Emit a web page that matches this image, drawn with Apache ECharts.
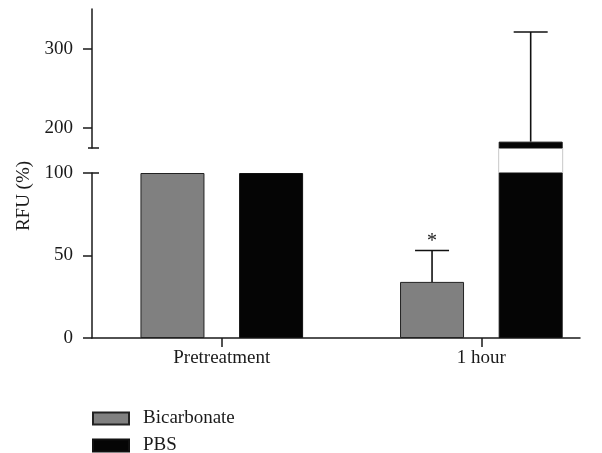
<!DOCTYPE html>
<html>
<head>
<meta charset="utf-8">
<script src="https://cdn.jsdelivr.net/npm/echarts@6/dist/echarts.min.js"></script>
<style>
  html, body { margin: 0; padding: 0; background: #fff; }
  #chart { width: 602px; height: 453px; }
</style>
</head>
<body>
<div id="chart"></div>
<script>
// data
const categories = ["Pretreatment", "1 hour"];
const bicarbonate = [100, 34];
const pbs = [100, 183];
const bicarbonateErrTop = [null, 53];
const pbsErrTop = [null, 321];
const bicarbonateMarks = ["", "*"];
const lowerTicks = [0, 50, 100];
const upperTicks = [200, 300];

// broken axis: lower part 0-100, upper part 175-350
const lowerMax = 100;
const upperMin = 175;
const upperMax = 350;

const font = "Liberation Serif";
const fontSize = 19;
const ink = "#1a1a1a";
const groupShift = [-0.19, 0.19]; // Bicarbonate left, PBS right of the category

const xPos = (i, g) => i + 1 + groupShift[g];

// which part of the axis a value belongs to
const lowerPoints = (vals, g) => vals.map((v, i) => [xPos(i, g), v]);
const upperPoints = (vals, g) =>
  vals.map((v, i) => [xPos(i, g), v > upperMin ? v : "-"]);

function errPoints(tops, vals, marks, g, upper) {
  const out = [];
  tops.forEach((t, i) => {
    if (t == null) return;
    if ((t > upperMin) === upper) {
      out.push([xPos(i, g), t, vals[i], marks ? marks[i] : ""]);
    }
  });
  return out;
}

function renderErr(params, api) {
  const x = api.value(0);
  const top = api.coord([x, api.value(1)]);
  const base = api.coord([x, api.value(2)]);
  const half = 17;
  const style = { stroke: "#111", lineWidth: 1.6 };
  const children = [
    { type: "line", shape: { x1: top[0], y1: top[1], x2: base[0], y2: base[1] }, style },
    { type: "line", shape: { x1: top[0] - half, y1: top[1], x2: top[0] + half, y2: top[1] }, style },
  ];
  const mark = api.value(3);
  if (mark) {
    children.push({
      type: "text",
      style: {
        text: mark, x: top[0], y: top[1] + 1,
        align: "center", verticalAlign: "bottom",
        font: "20px " + font, fill: ink,
      },
    });
  }
  return { type: "group", children };
}

// thin outline of the PBS bar across the axis break
function renderGap(params, api) {
  const x = api.value(0);
  const lo = api.coord([x, lowerMax]);
  const w = 64;
  return {
    type: "group",
    children: [
      { type: "line", shape: { x1: lo[0] - w / 2, y1: lo[1], x2: lo[0] - w / 2, y2: lo[1] - 25 }, style: { stroke: "#c8c8c8", lineWidth: 1 } },
      { type: "line", shape: { x1: lo[0] + w / 2, y1: lo[1], x2: lo[0] + w / 2, y2: lo[1] - 25 }, style: { stroke: "#c8c8c8", lineWidth: 1 } },
    ],
  };
}

const barBase = {
  type: "bar",
  barWidth: 64,
  barGap: "-100%",
  animation: false,
};
const grayStyle = { color: "#808080", borderColor: "#222", borderWidth: 1 };
const blackStyle = { color: "#050505", borderColor: "#111", borderWidth: 1 };

const xCommon = {
  type: "value",
  min: 0.5,
  max: 2.38,
  splitLine: { show: false },
};
const labelStyle = { color: ink, fontSize, fontFamily: font };

const chart = echarts.init(document.getElementById("chart"));
chart.setOption({
  animation: false,
  textStyle: { fontFamily: font },
  grid: [
    { left: 92, right: 22, top: 173, bottom: 115 },
    { left: 92, right: 22, top: 9, bottom: 305 },
  ],
  xAxis: [
    {
      ...xCommon,
      gridIndex: 0,
      axisLine: { lineStyle: { color: ink, width: 1.5 } },
      axisTick: { customValues: [1, 2], length: 9, lineStyle: { color: ink, width: 1.5 } },
      axisLabel: {
        ...labelStyle,
        customValues: [1, 2],
        formatter: (v) => categories[Math.round(v) - 1],
        margin: 11,
      },
    },
    { ...xCommon, gridIndex: 1, show: false },
  ],
  yAxis: [
    {
      gridIndex: 0, type: "value", min: 0, max: lowerMax,
      splitLine: { show: false },
      axisLine: { show: true, lineStyle: { color: ink, width: 1.5 } },
      axisTick: { customValues: lowerTicks, length: 9, lineStyle: { color: ink, width: 1.5 } },
      axisLabel: { ...labelStyle, customValues: lowerTicks, margin: 19 },
    },
    {
      // right half of the break cap at 100
      gridIndex: 0, type: "value", min: 0, max: lowerMax, position: "left",
      splitLine: { show: false },
      axisLine: { show: false },
      axisTick: { customValues: [lowerMax], inside: true, length: 7, lineStyle: { color: ink, width: 1.5 } },
      axisLabel: { show: false },
    },
    {
      gridIndex: 1, type: "value", min: upperMin, max: upperMax,
      splitLine: { show: false },
      axisLine: { show: true, lineStyle: { color: ink, width: 1.5 } },
      axisTick: { customValues: upperTicks, length: 9, lineStyle: { color: ink, width: 1.5 } },
      axisLabel: { ...labelStyle, customValues: upperTicks, margin: 19 },
    },
    {
      // break cap at the bottom of the upper part
      gridIndex: 1, type: "value", min: upperMin, max: upperMax, position: "left",
      splitLine: { show: false },
      axisLine: { show: false },
      axisTick: { customValues: [upperMin], inside: true, length: 7, lineStyle: { color: ink, width: 1.5 } },
      axisLabel: { show: false },
    },
    {
      gridIndex: 1, type: "value", min: upperMin, max: upperMax, position: "left",
      splitLine: { show: false },
      axisLine: { show: false },
      axisTick: { customValues: [upperMin], length: 4, lineStyle: { color: ink, width: 1.5 } },
      axisLabel: { show: false },
    },
  ],
  legend: {
    orient: "vertical",
    left: 92,
    top: 409,
    height: 60,
    padding: 0,
    itemWidth: 36,
    itemHeight: 12,
    itemGap: 8,
    icon: "rect",
    data: ["Bicarbonate", "PBS"],
    textStyle: { ...labelStyle, padding: [0, 0, 0, 9] },
  },
  graphic: [
    {
      type: "text",
      x: 24,
      y: 196,
      rotation: Math.PI / 2,
      style: {
        text: "RFU (%)", align: "center", verticalAlign: "middle",
        font: fontSize + "px " + font, fill: ink,
      },
    },
  ],
  series: [
    { ...barBase, name: "Bicarbonate", xAxisIndex: 0, yAxisIndex: 0, data: lowerPoints(bicarbonate, 0), itemStyle: grayStyle },
    { ...barBase, name: "PBS", xAxisIndex: 0, yAxisIndex: 0, data: lowerPoints(pbs, 1), itemStyle: blackStyle },
    { ...barBase, name: "PBS", xAxisIndex: 1, yAxisIndex: 2, data: upperPoints(pbs, 1), itemStyle: blackStyle },
    {
      type: "custom", name: "PBS", xAxisIndex: 0, yAxisIndex: 0,
      renderItem: renderGap, clip: false, z: 1,
      data: pbs.map((v, i) => [xPos(i, 1), v]).filter((d) => d[1] > upperMin),
    },
    {
      type: "custom", name: "Bicarbonate", xAxisIndex: 0, yAxisIndex: 0,
      renderItem: renderErr, clip: false, z: 5,
      data: errPoints(bicarbonateErrTop, bicarbonate, bicarbonateMarks, 0, false),
    },
    {
      type: "custom", name: "PBS", xAxisIndex: 1, yAxisIndex: 2,
      renderItem: renderErr, clip: false, z: 5,
      data: errPoints(pbsErrTop, pbs, null, 1, true),
    },
  ],
});
</script>
</body>
</html>
